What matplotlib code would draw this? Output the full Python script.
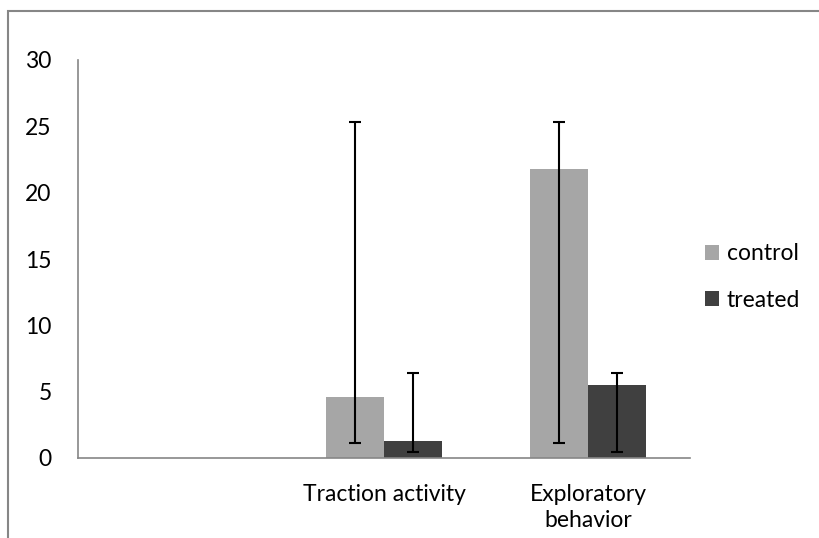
import matplotlib.pyplot as plt
import numpy as np
from matplotlib.patches import Rectangle

# データ
categories = ['', 'Traction activity', 'Exploratory\nbehavior']
control = [0, 4.6, 21.8]
treated = [0, 1.3, 5.5]
# エラーバー (下端, 上端)
control_low = [np.nan, 1.1, 1.1]
control_high = [np.nan, 25.3, 25.3]
treated_low = [np.nan, 0.45, 0.45]
treated_high = [np.nan, 6.4, 6.4]
yticks = [0, 5, 10, 15, 20, 25, 30]

plt.rcParams['font.family'] = ['Lato', 'DejaVu Sans']
fs = 16.5

fig = plt.figure(figsize=(8.2, 5.38), dpi=100)
ax = fig.add_axes([78 / 820, 1 - 458 / 538, 612 / 820, 398 / 538])

x = np.arange(len(categories))
w = 0.283

ctrl = np.array(control)
trt = np.array(treated)
ax.bar(x - w / 2, ctrl, w, color='#a6a6a6', label='control', zorder=2)
ax.bar(x + w / 2, trt, w, color='#404040', label='treated', zorder=2)

ctrl_err = [ctrl - np.array(control_low), np.array(control_high) - ctrl]
trt_err = [trt - np.array(treated_low), np.array(treated_high) - trt]
ax.errorbar(x - w / 2, ctrl, yerr=ctrl_err, fmt='none', ecolor='black',
            elinewidth=1.5, capsize=4.5, capthick=1.5, zorder=3)
ax.errorbar(x + w / 2, trt, yerr=trt_err, fmt='none', ecolor='black',
            elinewidth=1.5, capsize=4.5, capthick=1.5, zorder=3)

ax.set_xlim(-0.5, 2.5)
ax.set_ylim(0, 30)
ax.set_yticks(yticks)
ax.set_xticks(x)
ax.set_xticklabels(categories, fontsize=fs, linespacing=1.3)
ax.tick_params(axis='both', length=0, labelsize=fs, colors='black')
ax.tick_params(axis='y', pad=19)
ax.tick_params(axis='x', pad=18.5)

for side in ['top', 'right']:
    ax.spines[side].set_visible(False)
for side in ['left', 'bottom']:
    ax.spines[side].set_color('#868686')
    ax.spines[side].set_linewidth(1.2)

ax.legend(loc='center left', bbox_to_anchor=(1.0, 0.455), frameon=False,
          fontsize=fs, handlelength=0.61, handleheight=0.61,
          handletextpad=0.35, labelspacing=1.1, borderaxespad=0.25)

# 外枠
fig.patches.append(Rectangle((8 / 820, -0.1), 1.2, 1.1 - 11 / 538,
                             transform=fig.transFigure, fill=False,
                             edgecolor='#868686', linewidth=1.5))

fig.savefig('out.png', dpi=100)
